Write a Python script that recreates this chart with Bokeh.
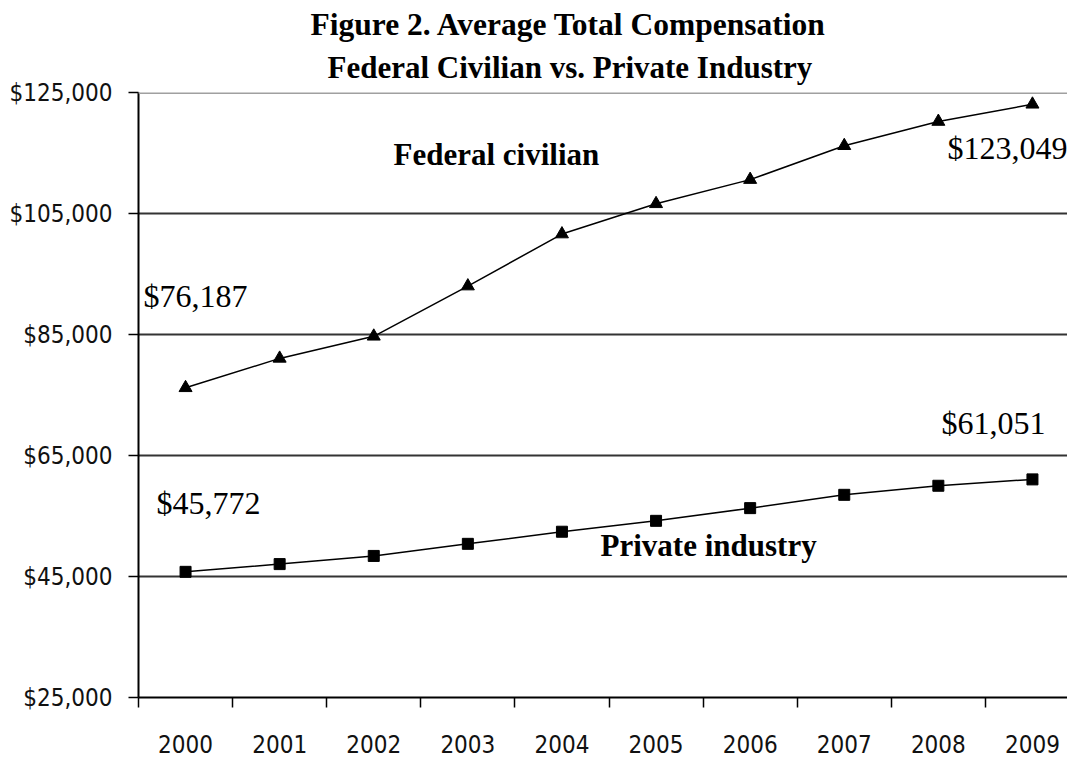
from bokeh.plotting import figure
from bokeh.models import Range1d, FixedTicker, NumeralTickFormatter, PrintfTickFormatter, Label, Span, Title
from bokeh.embed import file_html
from bokeh.resources import INLINE

# ---- data ----
years = [2000, 2001, 2002, 2003, 2004, 2005, 2006, 2007, 2008, 2009]
federal = [76187, 81050, 84700, 93000, 101600, 106600, 110600, 116200, 120200, 123049]
private = [45772, 47050, 48400, 50400, 52400, 54200, 56300, 58500, 60000, 61051]
y_ticks = [25000, 45000, 65000, 85000, 105000, 125000]
title_lines = ["Figure 2. Average Total Compensation", "Federal Civilian vs. Private Industry"]
series_names = ["Federal civilian", "Private industry"]

SERIF = "Liberation Serif"
COND = "DejaVu Sans Condensed"

W, H = 1067, 760
LEFT, TOP, BOTTOM = 138, 92, 63
px_per_year = 94.1
frame_w = W - LEFT

p = figure(width=W, height=H, output_backend="svg", toolbar_location=None,
           x_range=Range1d(years[0] - 0.5, years[0] - 0.5 + frame_w / px_per_year),
           y_range=Range1d(y_ticks[0], y_ticks[-1]),
           min_border_left=LEFT, min_border_right=0, min_border_top=TOP,
           min_border_bottom=BOTTOM)
p.outline_line_color = None
p.background_fill_color = "white"
p.border_fill_color = "white"

# titles: second line nearest the frame, first line above it
t2 = Title(text=title_lines[1], align="left", offset=189, vertical_align="top",
           standoff=12, text_font=SERIF, text_font_size="31px", text_font_style="bold",
           text_color="black")
t1 = Title(text=title_lines[0], align="left", offset=172, vertical_align="bottom",
           standoff=4, text_font=SERIF, text_font_size="31.5px", text_font_style="bold",
           text_color="black")
p.add_layout(t2, "above")
p.add_layout(t1, "above")

# x axis: boundary ticks (minor), centered labels (major)
xa = p.xaxis[0]
xa.ticker = FixedTicker(ticks=years, minor_ticks=[y - 0.5 for y in years] + [years[-1] + 0.5])
xa.formatter = PrintfTickFormatter(format="%d")
xa.major_tick_out = 0
xa.major_tick_in = 0
xa.minor_tick_out = 10
xa.minor_tick_in = 0
xa.minor_tick_line_color = "black"
xa.minor_tick_line_width = 1.5
xa.axis_line_color = "black"
xa.axis_line_width = 2
xa.major_label_text_font = COND
xa.major_label_text_font_size = "24px"
xa.major_label_text_color = "#111111"
xa.major_label_standoff = 27

# y axis
ya = p.yaxis[0]
ya.ticker = FixedTicker(ticks=y_ticks)
ya.formatter = NumeralTickFormatter(format="$0,0")
ya.major_tick_out = 10
ya.major_tick_in = 0
ya.minor_tick_out = 0
ya.minor_tick_in = 0
ya.major_tick_line_color = "black"
ya.major_tick_line_width = 1.5
ya.axis_line_color = "black"
ya.axis_line_width = 2
ya.major_label_text_font = COND
ya.major_label_text_font_size = "24px"
ya.major_label_text_color = "#111111"
ya.major_label_standoff = 16

# grids
p.xgrid.visible = False
p.ygrid.ticker = FixedTicker(ticks=y_ticks[1:-1])
p.ygrid.grid_line_color = "#333333"
p.ygrid.grid_line_width = 2
p.add_layout(Span(location=y_ticks[-1], dimension="width", line_color="#a0a0a0", line_width=3))

# series
p.line(years, federal, line_color="black", line_width=1.5)
p.scatter(years, federal, marker="triangle", size=13, color="black")
p.line(years, private, line_color="black", line_width=1.5)
p.scatter(years, private, marker="square", size=11, color="black")

# value labels, offset from their data points
def val_label(x, y, dx, dy):
    p.add_layout(Label(x=x, y=y, x_offset=dx, y_offset=dy, text=f"${y:,}",
                       text_font=SERIF, text_font_size="32px", text_color="black",
                       text_align="left", text_baseline="alphabetic"))

val_label(years[0], federal[0], -42, 92)
val_label(years[-1], federal[-1], -85, -44)
val_label(years[0], private[0], -29, 69)
val_label(years[-1], private[-1], -91, 56)

# series names
p.add_layout(Label(x=2002.21, y=112769, y_offset=12, text=series_names[0], text_font=SERIF,
                   text_font_size="31px", text_font_style="bold", text_color="black",
                   text_baseline="alphabetic"))
p.add_layout(Label(x=2004.41, y=48140, y_offset=12, text=series_names[1], text_font=SERIF,
                   text_font_size="31px", text_font_style="bold", text_color="black",
                   text_baseline="alphabetic"))

open("out.html", "w").write(file_html(p, INLINE))
